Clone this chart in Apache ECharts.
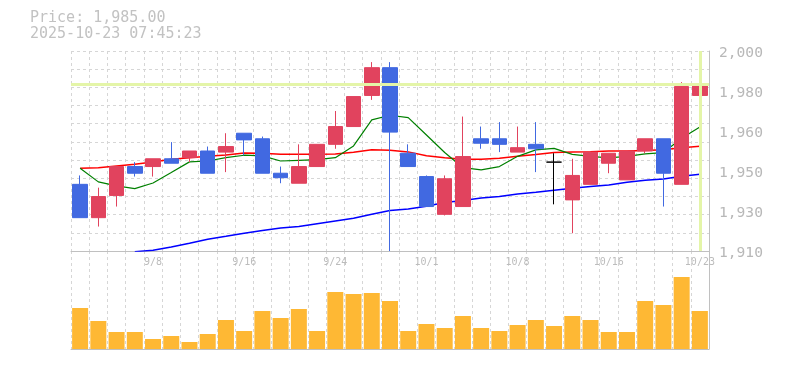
<!DOCTYPE html>
<html><head><meta charset="utf-8">
<script src="https://cdn.jsdelivr.net/npm/echarts@6/dist/echarts.min.js"></script>
<style>html,body{margin:0;padding:0;background:#fff}#c{width:785px;height:370px}</style>
</head><body><div id="c"></div>
<script>
const dates = ['9/2','9/3','9/4','9/5','9/8','9/9','9/10','9/11','9/12','9/16','9/17','9/18','9/19','9/22','9/24','9/25','9/26','9/29','9/30','10/1','10/2','10/3','10/6','10/7','10/8','10/9','10/10','10/14','10/15','10/16','10/17','10/20','10/21','10/22','10/23'];
const labelDates = ['9/8','9/16','9/24','10/1','10/8','10/16','10/23'];
const opens  = [1940,1925,1935,1948,1948,1951.5,1952,1955,1954.5,1963,1960.5,1945,1940.5,1948,1958,1966,1980,1992.5,1954,1943.5,1926.5,1930,1960.5,1960.5,1954.5,1958,1950,1933,1940,1949.5,1942,1955,1960.5,1940,1980];
const closes = [1925,1934.5,1948,1945,1951.5,1949.5,1955,1945,1957,1960,1945,1943,1948,1958,1966,1979.5,1992.5,1963.5,1948,1930,1942.5,1952.5,1958.5,1958,1956.5,1956,1950,1944,1954.5,1954,1955,1960.5,1945,1984,1985];
const highs  = [1944,1938.5,1948,1950,1951.5,1959,1955,1957,1963,1963,1961.5,1948,1958,1958,1973,1979.5,1995,1995,1958,1944,1944,1970.5,1966,1968,1966,1968,1954,1951.5,1954.5,1954,1955,1960.5,1960.5,1986,1989];
const lows   = [1925,1921,1930,1943.5,1943.5,1949.5,1950,1945,1945.5,1953,1945,1940.5,1940.5,1948,1956,1966,1978,1910,1948,1930,1926,1930,1956,1954.5,1954.5,1945.5,1931,1918,1940,1945,1942,1954,1930,1940,1974];
const ma5  = [1947.2,1941.1,1939.3,1938.1,1940.6,1945.3,1950.1,1950.5,1952.0,1953.1,1952.8,1950.5,1950.8,1951.1,1952.0,1957.3,1969.0,1971.1,1970.0,1962.2,1954.3,1947.5,1946.5,1948.0,1952.6,1955.5,1956.2,1953.5,1952.6,1951.9,1952.6,1953.7,1954.3,1960.7,1965.8];
const ma25 = [1947.2,1947.5,1948.3,1949.0,1950.1,1951.3,1952.0,1952.6,1953.2,1954.1,1954.0,1953.5,1953.5,1953.5,1953.7,1954.4,1955.6,1955.3,1954.6,1952.9,1952.0,1951.3,1951.3,1951.7,1952.6,1953.4,1954.3,1954.6,1954.7,1955.0,1955.0,1955.2,1955.6,1956.5,1957.1];
const ma75 = [null,null,null,1909.7,1910.3,1911.8,1913.5,1915.3,1916.6,1918.0,1919.2,1920.4,1921.0,1922.3,1923.5,1924.7,1926.5,1928.2,1928.9,1930.1,1931.8,1932.7,1933.9,1934.5,1935.7,1936.4,1937.3,1938.2,1939.0,1939.7,1940.9,1941.8,1942.4,1943.6,1944.5];
const volumes = [41,28,17,17,10,13,7,15,29,18,38,31,40,18,57,55,56,48,18,25,21,33,21,18,24,29,23,33,29,17,17,48,44,72,38];
const yTickLabels = ['1,910','1,930','1,950','1,960','1,980','2,000'];
const priceLabel = 'Price: 1,985.00';
const timeLabel = '2025-10-23 07:45:23';
const lastClose = 1985;
const lastDate = '10/23';

const mono = 'DejaVu Sans Mono';
const gridLine = {show:true, lineStyle:{color:'#d6d6d6', type:[3,3], width:1}};
const solidAxis = {show:true, lineStyle:{color:'#c0c0c0', width:1}};
const candleData = opens.map((o,i)=>[o, closes[i], lows[i], highs[i]]);

const chart = echarts.init(document.getElementById('c'));
chart.setOption({
  animation:false,
  title:{text: priceLabel + '\n' + timeLabel, left:30, top:10, padding:0,
    textStyle:{fontFamily:mono, fontSize:15, fontWeight:'normal', color:'#c2c2c2', lineHeight:16}},
  grid:[{left:71, right:76, top:51, height:200},{left:71, right:76, top:251, height:98},{left:71, right:76, top:53.5, height:200}],
  xAxis:[
    {type:'category', gridIndex:0, data:dates, boundaryGap:true, axisLine:solidAxis,
     axisTick:{show:false, interval:0},
     axisLabel:{interval:(i,v)=>labelDates.includes(v), color:'#bcbcbc', fontFamily:mono, fontSize:10, margin:6},
     splitLine:Object.assign({interval:0}, gridLine)},
    {type:'category', gridIndex:1, data:dates, boundaryGap:true, axisLine:solidAxis,
     axisTick:{show:false, interval:0}, axisLabel:{show:false},
     splitLine:Object.assign({interval:0}, gridLine)},
    {type:'category', gridIndex:2, data:dates, show:false}
  ],
  yAxis:[
    {type:'value', gridIndex:0, position:'right', min:1910, max:2000, axisLine:solidAxis,
     axisTick:{show:false}, axisLabel:{show:false}, splitLine:{show:false}},
    {type:'value', gridIndex:2, position:'right', min:0, max:5, interval:1, axisLine:{show:false},
     axisTick:{show:false}, splitLine:{show:false},
     axisLabel:{formatter:v=>yTickLabels[v], color:'#b8b8b8', fontFamily:mono, fontSize:14.6, margin:10}},
    {type:'value', gridIndex:0, position:'left', min:0, max:11, interval:1, axisLine:{show:false},
     axisTick:{show:false}, axisLabel:{show:false}, splitLine:gridLine},
    {type:'value', gridIndex:1, position:'right', min:0, max:98, axisLine:solidAxis,
     axisTick:{show:false}, axisLabel:{show:false}, splitLine:{show:false}}
  ],
  series:[
    {type:'line', xAxisIndex:0, yAxisIndex:0, data:closes, symbol:'none', lineStyle:{opacity:0}, z:1, silent:true,
     markLine:{silent:true, symbol:'none', label:{show:false}, animation:false,
       lineStyle:{color:'#e4f5a8', width:3, type:'solid'},
       data:[{yAxis:lastClose},{xAxis:lastDate}]}},
    {type:'line', xAxisIndex:0, yAxisIndex:0, data:ma75, symbol:'none', lineStyle:{color:'#0000ff', width:1.5}, z:2},
    {type:'line', xAxisIndex:0, yAxisIndex:0, data:ma25, symbol:'none', lineStyle:{color:'#ff0000', width:1.5}, z:2},
    {type:'line', xAxisIndex:0, yAxisIndex:0, data:ma5, symbol:'none', lineStyle:{color:'#008000', width:1.2}, z:2},
    {type:'candlestick', xAxisIndex:0, yAxisIndex:0, data:candleData, barWidth:15, z:3,
     itemStyle:{color:'#e1435e', color0:'#4169e1', borderColor:'#e1435e', borderColor0:'#4169e1', borderColorDoji:'#000000', borderWidth:1}},
    {type:'bar', xAxisIndex:1, yAxisIndex:3, data:volumes, barWidth:16, itemStyle:{color:'#feb834'}}
  ]
});
</script></body></html>
